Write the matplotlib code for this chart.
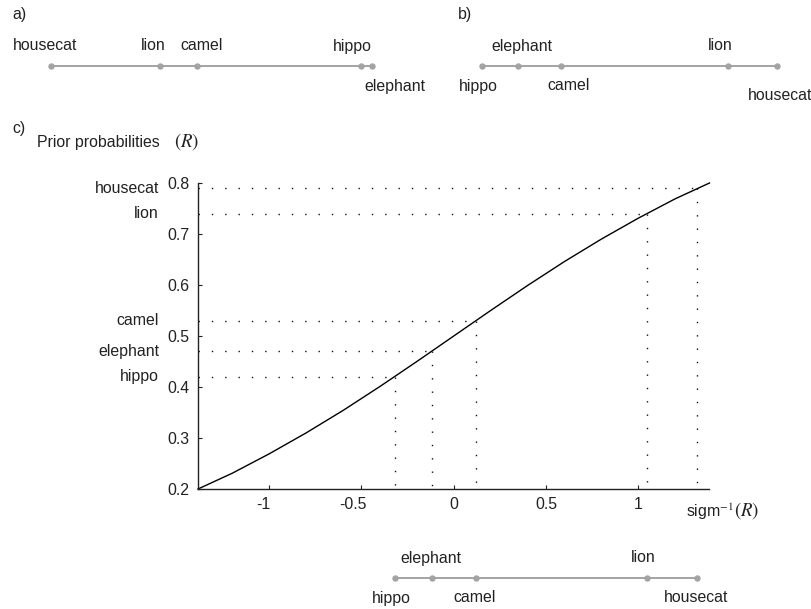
import matplotlib
matplotlib.use("Agg")
import matplotlib.pyplot as plt
import matplotlib.transforms as mtransforms
import numpy as np

FS = 11.4
plt.rcParams['font.family'] = ['Liberation Sans', 'DejaVu Sans']
plt.rcParams['mathtext.fontset'] = 'stix'
plt.rcParams['font.size'] = FS

# ---- data ----
animals = ["hippo", "elephant", "camel", "lion", "housecat"]
priors = [0.42, 0.47, 0.53, 0.74, 0.79]                 # R
logit_priors = [-0.32, -0.12, 0.12, 1.05, 1.32]        # sigm^-1(R)

# panel a: ordering on an arbitrary 0..1 scale
animals_a = ["housecat", "lion", "camel", "hippo", "elephant"]
values_a = [0.0, 0.34, 0.455, 0.966, 1.0]

# sigmoid curve samples
curve_x = [-1.386, -1.2, -1.0, -0.8, -0.6, -0.4, -0.2, 0.0, 0.2, 0.4, 0.6, 0.8, 1.0, 1.2, 1.386]
curve_R = [0.20, 0.231, 0.269, 0.310, 0.354, 0.401, 0.450, 0.50, 0.550, 0.599, 0.646, 0.690, 0.731, 0.769, 0.80]

xticks = [-1, -0.5, 0, 0.5, 1]
xticklabels = ["-1", "-0.5", "0", "0.5", "1"]
yticks = [0.2, 0.3, 0.4, 0.5, 0.6, 0.7, 0.8]

W, H = 812, 609
fig = plt.figure(figsize=(W / 100, H / 100), dpi=100)

def fx(px):
    return px / W

def fy(py):
    return 1 - py / H

PX = 0.72  # points per pixel
GRAY = "#a3a3a3"
TXT = '#222222'

def strip(ax, vals, names, offsets):
    ax.plot(vals, [0] * len(vals), '-', color=GRAY, lw=1.4, marker='o', ms=3.6,
            mfc=GRAY, mec=GRAY, clip_on=False)
    for v, n in zip(vals, names):
        dx, dy = offsets[n]
        ax.annotate(n, (v, 0), xytext=(dx * PX, dy * PX), textcoords='offset points',
                    ha='center', va='center', fontsize=FS, color=TXT)
    ax.set_ylim(-1, 1)
    ax.axis('off')

# main axes
left, right = 198, 709.5
top, bottom = 183, 489
ax = fig.add_axes([fx(left), fy(bottom), fx(right - left), (bottom - top) / H])
xmin, xmax = curve_x[0], curve_x[-1]
ax.set_xlim(xmin, xmax)
ax.set_ylim(0.2, 0.8)
ax.plot(curve_x, curve_R, color='black', lw=1.0, clip_on=False)
dot = (0, (1, 8.6))
for lx, p in zip(logit_priors, priors):
    ax.plot([xmin, lx], [p, p], color='#111111', lw=1.0, linestyle=dot, clip_on=False)
    ax.plot([lx, lx], [p, 0.2], color='#111111', lw=1.0, linestyle=dot, clip_on=False)
for n, p in zip(animals, priors):
    ax.annotate(n, (0, p), xycoords=('axes fraction', 'data'), xytext=(-39 * PX, 0),
                textcoords='offset points', ha='right', va='center', fontsize=FS,
                color=TXT)
ax.set_xticks(xticks)
ax.set_xticklabels(xticklabels)
ax.set_yticks(yticks)
ax.set_yticklabels([f"{t:.1f}" for t in yticks])
ax.tick_params(direction='in', length=3, width=0.8, labelsize=FS, colors=TXT,
               labelcolor=TXT)
ax.tick_params(axis='y', pad=6)
ax.tick_params(axis='x', pad=6)
neg_shift = {"-1": -6, "-0.5": -9}
for lbl in ax.get_xticklabels():
    t = lbl.get_text()
    if t in neg_shift:
        off = mtransforms.ScaledTranslation(neg_shift[t] * PX / 72, 0, fig.dpi_scale_trans)
        lbl.set_transform(lbl.get_transform() + off)
for s in ['top', 'right']:
    ax.spines[s].set_visible(False)
for s in ['left', 'bottom']:
    ax.spines[s].set_linewidth(1.0)
    ax.spines[s].set_color(TXT)

# axis texts
fig.text(fx(12), fy(128), "c)", ha='left', va='center', fontsize=FS, color=TXT)
fig.text(fx(37), fy(143), "Prior probabilities", ha='left', va='center', fontsize=FS,
         color=TXT)
fig.text(fx(174), fy(142), r"$(R)$", ha='left', va='center', fontsize=13.5, color=TXT)
fig.text(fx(686), fy(512), r"sigm$^{-1}$", ha='left', va='center', fontsize=FS,
         color=TXT)
fig.text(fx(734), fy(511), r"$(R)$", ha='left', va='center', fontsize=13.5, color=TXT)

# panel a
fig.text(fx(12), fy(14), "a)", ha='left', va='center', fontsize=FS, color=TXT)
ax_a = fig.add_axes([fx(51), fy(71), fx(372 - 51), 10 / H])
ax_a.set_xlim(values_a[0], values_a[-1])
strip(ax_a, values_a, animals_a,
      {"housecat": (-6, 20), "lion": (-7, 20), "camel": (5, 20), "hippo": (-9, 20),
       "elephant": (23, -20)})

# panel b
fig.text(fx(458), fy(14), "b)", ha='left', va='center', fontsize=FS, color=TXT)
ax_b = fig.add_axes([fx(482), fy(71), fx(777 - 482), 10 / H])
ax_b.set_xlim(logit_priors[0], logit_priors[-1])
strip(ax_b, logit_priors, animals,
      {"hippo": (-4, -20), "elephant": (4, 20), "camel": (7, -20), "lion": (-8, 20),
       "housecat": (3, -29)})

# bottom strip sharing main x scale
ax_c = fig.add_axes([fx(left), fy(583), fx(right - left), 10 / H])
ax_c.set_xlim(xmin, xmax)
strip(ax_c, logit_priors, animals,
      {"hippo": (-3, -20), "elephant": (-1, 20), "camel": (-1, -20), "lion": (-4, 20),
       "housecat": (-1, -20)})

fig.savefig("out.png", dpi=100)
